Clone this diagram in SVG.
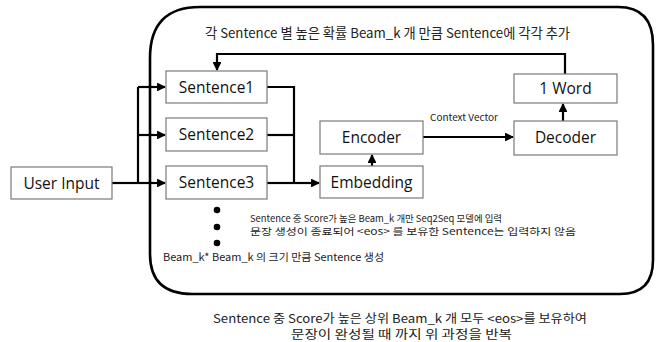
<svg xmlns="http://www.w3.org/2000/svg" width="661" height="342" viewBox="0 0 661 342">
<defs>
<marker id="ah" viewBox="0 0 10 10" refX="9" refY="5" markerWidth="4" markerHeight="4" orient="auto" markerUnits="strokeWidth">
<path d="M0,0 L10,5 L0,10 Z" fill="#000"/>
</marker>
<style>
.box{fill:#fff;stroke:#7a7a7a;stroke-width:1.2}
.lbl{font-family:"Open Sans","Noto Sans",sans-serif;font-size:15.5px;fill:#111;text-anchor:middle}
.kr{font-family:"Noto Sans CJK KR","Noto Sans",sans-serif;fill:#222}
.ln{fill:none;stroke:#000;stroke-width:2.2}
.arr{fill:none;stroke:#000;stroke-width:2.2;marker-end:url(#ah)}
</style>
</defs>
<rect width="661" height="342" fill="#fff"/>
<path id="frame" d="M200,7 L618,7 Q653,7 653,45 L653,260 Q653,294 620,294 L192,294 Q150,294 150,254 L150,58 Q150,7 200,7 Z" fill="none" stroke="#000" stroke-width="2.6"/>
<g id="connectors">
<path class="ln" d="M112,183 L138,183"/>
<path class="ln" d="M138,87 L138,183"/>
<path class="arr" d="M138,87 L165,87"/>
<path class="arr" d="M138,135 L165,135"/>
<path class="arr" d="M138,183 L165,183"/>
<path class="ln" d="M267,87 L294,87 L294,183"/>
<path class="ln" d="M267,135 L294,135"/>
<path class="ln" d="M267,183 L294,183"/>
<path class="arr" d="M294,183 L319,183"/>
<path class="arr" d="M372,166 L372,155"/>
<path class="arr" d="M423,137 L513,137"/>
<path class="arr" d="M563,121 L563,104"/>
<path class="arr" d="M565,74 L565,54 L217,54 L217,70"/>
</g>
<g id="user-input"><rect class="box" x="11" y="167" width="101" height="32"/><text class="lbl" x="61.5" y="188.5">User Input</text></g>
<g id="sentence1"><rect class="box" x="166" y="71" width="101" height="32"/><text class="lbl" x="216.5" y="92.5">Sentence1</text></g>
<g id="sentence2"><rect class="box" x="166" y="118" width="101" height="33"/><text class="lbl" x="216.5" y="140">Sentence2</text></g>
<g id="sentence3"><rect class="box" x="166" y="166" width="101" height="33"/><text class="lbl" x="216.5" y="188">Sentence3</text></g>
<g id="embedding"><rect class="box" x="320" y="166" width="103" height="32"/><text class="lbl" x="371.5" y="187.5">Embedding</text></g>
<g id="encoder"><rect class="box" x="320" y="121" width="103" height="33"/><text class="lbl" x="371.5" y="143">Encoder</text></g>
<g id="decoder"><rect class="box" x="514" y="121" width="103" height="34"/><text class="lbl" x="565.5" y="143">Decoder</text></g>
<g id="one-word"><rect class="box" x="514" y="74" width="103" height="29"/><text class="lbl" x="565.5" y="94">1 Word</text></g>
<g id="dots" fill="#000">
<circle cx="217" cy="210" r="3.3"/>
<circle cx="217" cy="227" r="3.3"/>
<circle cx="217" cy="243" r="3.3"/>
</g>
<g id="labels">
<text class="kr" x="205" y="38" font-size="13.5" textLength="365" lengthAdjust="spacingAndGlyphs">각 Sentence 별 높은 확률 Beam_k 개 만큼 Sentence에 각각 추가</text>
<text class="kr" x="430" y="121" font-size="9.5" textLength="68" lengthAdjust="spacingAndGlyphs">Context Vector</text>
<text class="kr" x="250" y="221.5" font-size="9.5" textLength="252" lengthAdjust="spacingAndGlyphs">Sentence 중 Score가 높은 Beam_k 개만 Seq2Seq 모델에 입력</text>
<text class="kr" x="250" y="234.5" font-size="9.5" textLength="326" lengthAdjust="spacingAndGlyphs">문장 생성이 종료되어 &lt;eos&gt; 를 보유한 Sentence는 입력하지 않음</text>
<text class="kr" x="163" y="261" font-size="10.5" textLength="221" lengthAdjust="spacingAndGlyphs">Beam_k* Beam_k 의 크기 만큼 Sentence 생성</text>
<text class="kr" x="213" y="323" font-size="12" textLength="374" lengthAdjust="spacingAndGlyphs">Sentence 중 Score가 높은 상위 Beam_k 개 모두 &lt;eos&gt;를 보유하여</text>
<text class="kr" x="291" y="339" font-size="12" textLength="221" lengthAdjust="spacingAndGlyphs">문장이 완성될 때 까지 위 과정을 반복</text>
</g>
</svg>
